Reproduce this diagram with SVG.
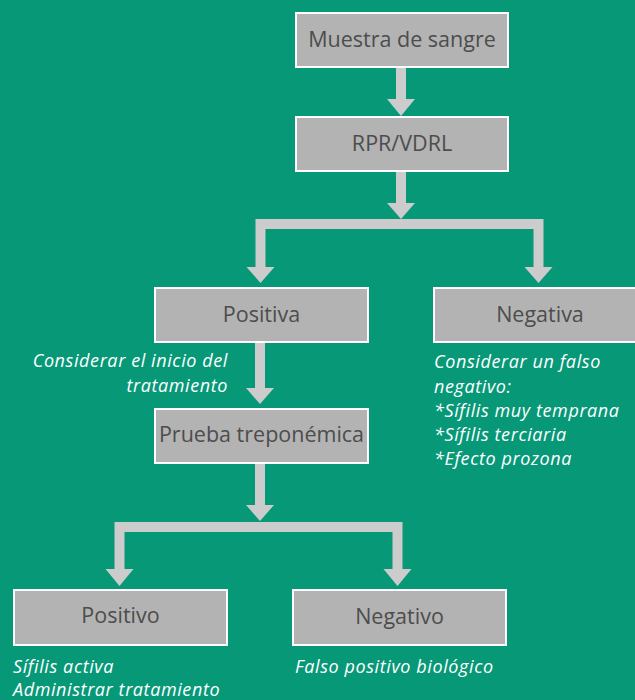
<svg xmlns="http://www.w3.org/2000/svg" width="635" height="700" viewBox="0 0 635 700">
<style>
.box{fill:#b3b3b3;stroke:#ffffff;stroke-width:2}
.lbl{font-family:"Open Sans","Noto Sans","Liberation Sans",sans-serif;font-size:21.5px;fill:#4d4d4d;text-anchor:middle}
.note{font-family:"Open Sans","Noto Sans","Liberation Sans",sans-serif;font-size:18px;letter-spacing:0.6px;font-style:italic;fill:#ffffff}
.sh{fill:none;stroke:#cccccc;stroke-width:10;stroke-linejoin:miter}
.hd{fill:#cccccc}
</style>
<rect x="0" y="0" width="635" height="700" fill="#079877"/>
<g id="connectors">
<path class="sh" d="M401,67 V100"/>
<polygon class="hd" points="387,99 415,99 401,116"/>
<path class="sh" d="M401,172 V204"/>
<polygon class="hd" points="387,203 415,203 401,219"/>
<path class="sh" d="M260.5,268 V224 H538.5 V268"/>
<polygon class="hd" points="246.5,267 274.5,267 260.5,283"/>
<polygon class="hd" points="524.5,267 552.5,267 538.5,283"/>
<path class="sh" d="M260,343 V389"/>
<polygon class="hd" points="246,388 274,388 260,404"/>
<path class="sh" d="M260,464 V506"/>
<polygon class="hd" points="246,505 274,505 260,521"/>
<path class="sh" d="M119.5,570 V527 H397.5 V570"/>
<polygon class="hd" points="105.5,569 133.5,569 119.5,586"/>
<polygon class="hd" points="383.5,569 411.5,569 397.5,586"/>
</g>
<g id="muestra">
<rect class="box" x="296" y="13" width="212" height="54"/>
<text class="lbl" x="402" y="47">Muestra de sangre</text>
</g>
<g id="rpr">
<rect class="box" x="296" y="117" width="212" height="54"/>
<text class="lbl" x="402" y="151">RPR/VDRL</text>
</g>
<g id="positiva">
<rect class="box" x="155" y="288" width="213" height="54"/>
<text class="lbl" x="261.5" y="322">Positiva</text>
<text class="note" text-anchor="end"><tspan x="228" y="367">Considerar el inicio del</tspan><tspan x="228" y="392">tratamiento</tspan></text>
</g>
<g id="negativa">
<rect class="box" x="434" y="288" width="212" height="54"/>
<text class="lbl" x="540" y="322">Negativa</text>
<text class="note"><tspan x="434" y="368">Considerar un falso</tspan><tspan x="434" y="392.5">negativo:</tspan><tspan x="434" y="417">*Sífilis muy temprana</tspan><tspan x="434" y="441">*Sífilis terciaria</tspan><tspan x="434" y="465">*Efecto prozona</tspan></text>
</g>
<g id="prueba">
<rect class="box" x="155" y="409" width="213" height="54"/>
<text class="lbl" x="261.5" y="442">Prueba treponémica</text>
</g>
<g id="positivo">
<rect class="box" x="14" y="590" width="213" height="55"/>
<text class="lbl" x="120.5" y="623">Positivo</text>
<text class="note"><tspan x="13" y="673">Sífilis activa</tspan><tspan x="13" y="696">Administrar tratamiento</tspan></text>
</g>
<g id="negativo">
<rect class="box" x="293" y="590" width="213" height="55"/>
<text class="lbl" x="399.5" y="624">Negativo</text>
<text class="note" x="295" y="673">Falso positivo biológico</text>
</g>
</svg>
